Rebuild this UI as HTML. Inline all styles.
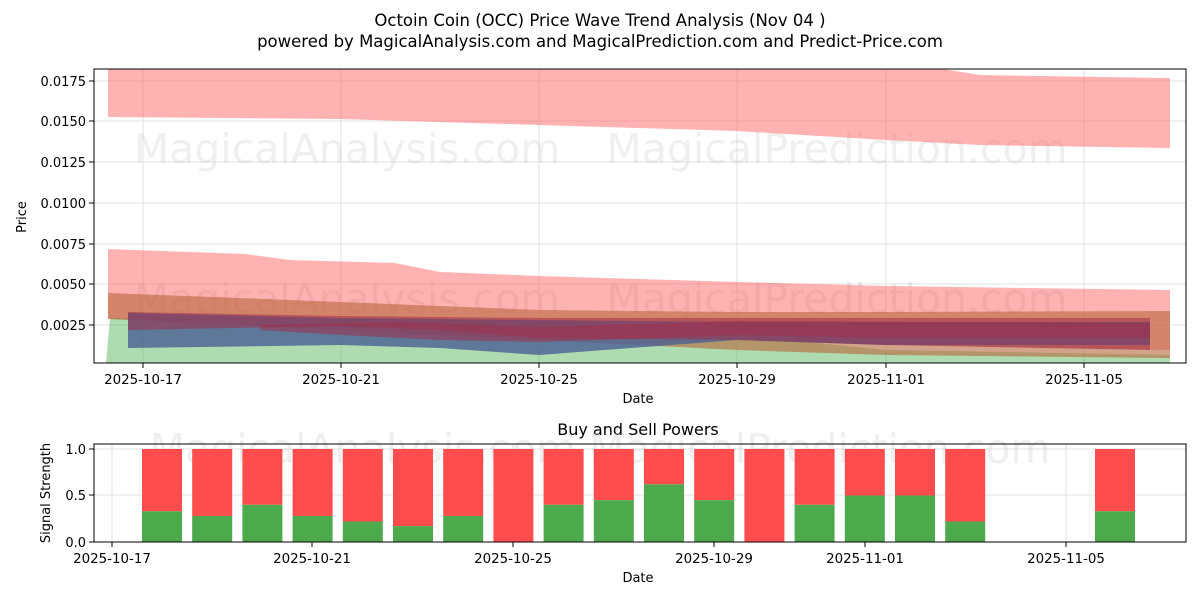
<!DOCTYPE html>
<html><head><meta charset="utf-8"><style>
body{margin:0;background:#fff;font-family:"DejaVu Sans","Liberation Sans",sans-serif}
svg text{font-family:"DejaVu Sans","Liberation Sans",sans-serif;fill:#000}
</style></head><body>
<svg width="1200" height="600" viewBox="0 0 1200 600" xmlns="http://www.w3.org/2000/svg">
<rect width="1200" height="600" fill="#fff"/>
<text x="600" y="26" font-size="16.5" text-anchor="middle">Octoin Coin (OCC) Price Wave Trend Analysis (Nov 04 )</text>
<text x="600" y="47" font-size="16.5" text-anchor="middle">powered by MagicalAnalysis.com and MagicalPrediction.com and Predict-Price.com</text>

<g stroke="#e0e0e0" stroke-width="1">
<line x1="94" x2="1186" y1="81" y2="81"/><line x1="94" x2="1186" y1="121" y2="121"/><line x1="94" x2="1186" y1="162" y2="162"/><line x1="94" x2="1186" y1="203" y2="203"/><line x1="94" x2="1186" y1="244" y2="244"/><line x1="94" x2="1186" y1="284" y2="284"/><line x1="94" x2="1186" y1="325" y2="325"/>
<line x1="143" x2="143" y1="69" y2="363"/><line x1="341" x2="341" y1="69" y2="363"/><line x1="539" x2="539" y1="69" y2="363"/><line x1="737" x2="737" y1="69" y2="363"/><line x1="886" x2="886" y1="69" y2="363"/><line x1="1084" x2="1084" y1="69" y2="363"/>
</g>
<text x="347" y="163" font-size="41" text-anchor="middle" style="fill:#ccc" opacity="0.3">MagicalAnalysis.com</text>
<text x="837" y="163" font-size="41" text-anchor="middle" style="fill:#ccc" opacity="0.3">MagicalPrediction.com</text>
<text x="347" y="313" font-size="41" text-anchor="middle" style="fill:#ccc" opacity="0.4">MagicalAnalysis.com</text>
<text x="837" y="313" font-size="41" text-anchor="middle" style="fill:#ccc" opacity="0.4">MagicalPrediction.com</text>

<clipPath id="c1"><rect x="94" y="69" width="1092" height="294"/></clipPath>
<g clip-path="url(#c1)">
<polygon fill="#ff6666" opacity="0.5" points="108,60 886,60 980,75 1170,78 1170,148 980,145 886,140 737,131 539,125 341,119 108,117"/>
<polygon fill="#ff6666" opacity="0.5" points="108,249 245,254 290,260 395,263 440,272 539,276 737,282 886,286 1170,290 1170,350 886,345 539,330 341,322 108,319"/>
<polygon fill="#4caf50" opacity="0.45" points="110,318 341,318 539,322 737,335 886,350 1170,355 1170,363 106,363"/>
<polygon fill="#b5653a" opacity="0.6" points="108,293 341,302 539,310 737,312 886,312 1170,311 1170,358 886,355 737,350 539,340 341,330 108,319"/>
<polygon fill="#4a5f95" opacity="0.8" points="128,313 341,318 539,320 737,322 1150,322 1150,345 886,345 737,340 539,355 440,348 341,345 128,348"/>
<polygon fill="#a0304a" opacity="0.55" points="128,312 341,316 539,318 737,318 1150,318 1150,350 886,345 737,340 539,338 440,330 341,326 128,330"/>
<polygon fill="#a0304a" opacity="0.55" points="260,325 400,322 539,327 737,321 1150,323 1150,338 886,338 737,335 539,342 440,340 341,335 260,330"/>
</g>
<rect x="94" y="69" width="1092" height="294" fill="none" stroke="#000" stroke-width="1"/>
<g font-size="13" text-anchor="end">
<text x="86" y="86">0.0175</text><text x="86" y="126">0.0150</text><text x="86" y="167">0.0125</text><text x="86" y="208">0.0100</text><text x="86" y="249">0.0075</text><text x="86" y="289">0.0050</text><text x="86" y="330">0.0025</text>
</g>
<g stroke="#000"><line x1="89" x2="94" y1="81" y2="81"/><line x1="89" x2="94" y1="121" y2="121"/><line x1="89" x2="94" y1="162" y2="162"/><line x1="89" x2="94" y1="203" y2="203"/><line x1="89" x2="94" y1="244" y2="244"/><line x1="89" x2="94" y1="284" y2="284"/><line x1="89" x2="94" y1="325" y2="325"/>
<line x1="143" x2="143" y1="363" y2="368"/><line x1="341" x2="341" y1="363" y2="368"/><line x1="539" x2="539" y1="363" y2="368"/><line x1="737" x2="737" y1="363" y2="368"/><line x1="886" x2="886" y1="363" y2="368"/><line x1="1084" x2="1084" y1="363" y2="368"/></g>
<g font-size="13.4" text-anchor="middle">
<text x="143" y="384">2025-10-17</text><text x="341" y="384">2025-10-21</text><text x="539" y="384">2025-10-25</text><text x="737" y="384">2025-10-29</text><text x="886" y="384">2025-11-01</text><text x="1084" y="384">2025-11-05</text>
</g>
<text x="638" y="403" font-size="13" text-anchor="middle">Date</text>
<text x="26" y="217" font-size="13" text-anchor="middle" transform="rotate(-90 26 217)">Price</text>

<text x="638" y="435" font-size="16" text-anchor="middle">Buy and Sell Powers</text>
<g stroke="#e0e0e0"><line x1="94" x2="1186" y1="449" y2="449"/><line x1="94" x2="1186" y1="495" y2="495"/>
<line x1="112" x2="112" y1="444" y2="542"/><line x1="312" x2="312" y1="444" y2="542"/><line x1="513" x2="513" y1="444" y2="542"/><line x1="714" x2="714" y1="444" y2="542"/><line x1="865" x2="865" y1="444" y2="542"/><line x1="1066" x2="1066" y1="444" y2="542"/></g>
<text x="600" y="463" font-size="41" text-anchor="middle" style="fill:#ccc" opacity="0.3">MagicalAnalysis.com    MagicalPrediction.com</text>
<g id="bars"></g>
<rect x="94" y="444" width="1092" height="98" fill="none" stroke="#000"/>
<g stroke="#000"><line x1="89" x2="94" y1="449" y2="449"/><line x1="89" x2="94" y1="495" y2="495"/><line x1="89" x2="94" y1="542" y2="542"/>
<line x1="112" x2="112" y1="542" y2="547"/><line x1="312" x2="312" y1="542" y2="547"/><line x1="513" x2="513" y1="542" y2="547"/><line x1="714" x2="714" y1="542" y2="547"/><line x1="865" x2="865" y1="542" y2="547"/><line x1="1066" x2="1066" y1="542" y2="547"/></g>
<g font-size="13" text-anchor="end"><text x="86" y="454">1.0</text><text x="86" y="500">0.5</text><text x="86" y="547">0.0</text></g>
<g font-size="13.4" text-anchor="middle">
<text x="112" y="563">2025-10-17</text><text x="312" y="563">2025-10-21</text><text x="513" y="563">2025-10-25</text><text x="714" y="563">2025-10-29</text><text x="865" y="563">2025-11-01</text><text x="1066" y="563">2025-11-05</text>
</g>
<text x="638" y="582" font-size="13" text-anchor="middle">Date</text>
<text x="50" y="493" font-size="13" text-anchor="middle" transform="rotate(-90 50 493)">Signal Strength</text>
</svg>
<script>
var g=[.33,.28,.4,.28,.22,.17,.28,0,.4,.45,.62,.45,0,.4,.5,.5,.22];
var ns='http://www.w3.org/2000/svg',B=document.getElementById('bars');
function bar(c,f){var x=c-20,h=93;var r=document.createElementNS(ns,'rect');r.setAttribute('x',x);r.setAttribute('y',449);r.setAttribute('width',40);r.setAttribute('height',h*(1-f));r.setAttribute('fill','#ff4c4c');B.appendChild(r);
var q=document.createElementNS(ns,'rect');q.setAttribute('x',x);q.setAttribute('y',449+h*(1-f));q.setAttribute('width',40);q.setAttribute('height',h*f);q.setAttribute('fill','#4caa4c');B.appendChild(q);}
for(var i=0;i<g.length;i++)bar(162+i*50.2,g[i]);
bar(1115,.33);
</script>
</body></html>
